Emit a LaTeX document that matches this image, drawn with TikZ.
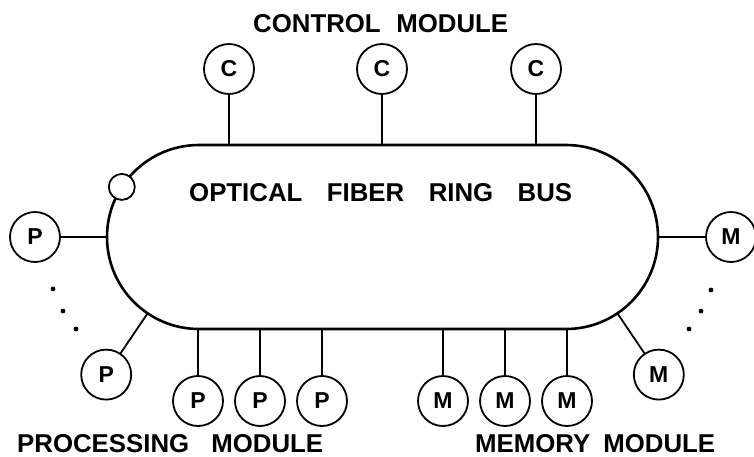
\documentclass[tikz,border=0pt]{standalone}
\usepackage{fontspec}
\newfontfamily\lettering{Liberation Sans}
\usetikzlibrary{shapes.misc}
\begin{document}
\tikzset{
  modbox/.style={circle, draw, line width=1.8pt, minimum size=50pt, inner sep=0pt,
    font=\lettering\bfseries\fontsize{23}{26}\selectfont},
  tap/.style={line width=1.8pt},
  caption/.style={inner sep=0pt, anchor=base west,
    font=\lettering\bfseries\fontsize{25.8}{30}\selectfont},
  ringbus/.style={rounded rectangle, draw, line width=2.6pt,
    minimum width=551pt, minimum height=184pt, inner sep=0pt},
  relay/.style={circle, draw, fill=white, line width=1.8pt, minimum size=26pt, inner sep=0pt},
  ellipsis dot/.style={fill=black},
}
\begin{tikzpicture}[x=1pt,y=-1pt]
\useasboundingbox (0,0) rectangle (754,456);

% the ring bus itself
\node[ringbus] (bus) at (382.5,237) {};
\node[caption] (title) at (189,201) {\makebox[383pt][s]{OPTICAL FIBER RING BUS}};
\node[relay] (relay) at (121.8,186.9) {};

% control modules on top
\node[caption] (ctrl) at (253,32) {\makebox[255pt][s]{CONTROL MODULE}};
\node[modbox] (c1) at (229,69) {C};
\node[modbox] (c2) at (382,69) {C};
\node[modbox] (c3) at (536,69) {C};
\foreach \n in {c1,c2,c3} \draw[tap] (\n) -- (\n |- bus.north);

% processing modules
\node[modbox] (pw) at (35,237) {P};
\draw[tap] (pw) -- (bus.west);
\coordinate (tapsw) at (147.6,313.3);
\node[modbox] (psw) at (106.2,374.6) {P};
\draw[tap] (psw) -- (tapsw);
\node[modbox] (p1) at (198,401) {P};
\node[modbox] (p2) at (260,401) {P};
\node[modbox] (p3) at (322,401) {P};
\foreach \n in {p1,p2,p3} \draw[tap] (\n) -- (\n |- bus.south);
\fill[ellipsis dot] (53,289) circle (2.4pt);
\fill[ellipsis dot] (63,311) circle (2.4pt);
\fill[ellipsis dot] (76,329) circle (2.4pt);
\node[caption] (proc) at (17,452) {\makebox[306pt][s]{PROCESSING MODULE}};

% memory modules
\node[modbox] (me) at (731,237) {M};
\draw[tap] (me) -- (bus.east);
\coordinate (tapse) at (617.4,313.3);
\node[modbox] (mse) at (658.8,374.6) {M};
\draw[tap] (mse) -- (tapse);
\node[modbox] (m1) at (443,401) {M};
\node[modbox] (m2) at (505,401) {M};
\node[modbox] (m3) at (567,401) {M};
\foreach \n in {m1,m2,m3} \draw[tap] (\n) -- (\n |- bus.south);
\fill[ellipsis dot] (711,290) circle (2.4pt);
\fill[ellipsis dot] (701,311) circle (2.4pt);
\fill[ellipsis dot] (689,329) circle (2.4pt);
\node[caption] (mem) at (475,452) {\makebox[240pt][s]{MEMORY MODULE}};
\end{tikzpicture}
\end{document}
